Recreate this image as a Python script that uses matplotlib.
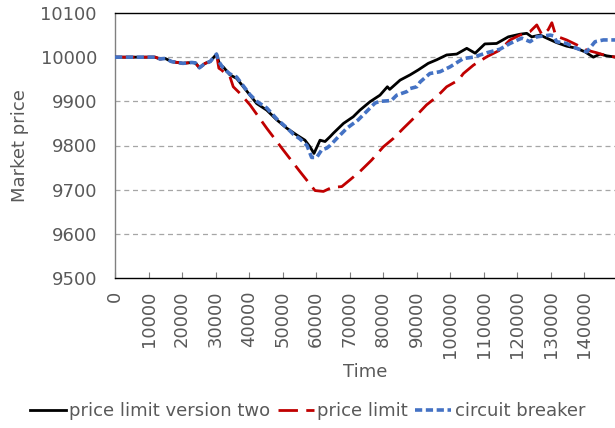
import matplotlib
matplotlib.use("Agg")
import matplotlib.pyplot as plt

# ---- data ----
t_start = [0, 5000, 10000, 12000, 13400, 15000, 16900, 20300, 22900, 24000, 25200, 26900, 28400, 30300]
p_start = [10000, 10000, 10000, 10000, 9996, 9997, 9990, 9986, 9988, 9987, 9976, 9986, 9990, 10007]

t_black = t_start + [31300, 32300, 34300, 36300, 38300, 40300, 42300, 45300, 48300, 51300, 54200, 56700,
                     58200, 59400, 61200, 62700, 64200, 65200, 68200, 71100, 73100, 76100, 79100, 81300,
                     82000, 85100, 88100, 90500, 93500, 96000, 99000, 102000, 105000, 107500, 110400,
                     113900, 117400, 120900, 122900, 124400, 126900, 128900, 131800, 134800, 137800,
                     140300, 142800, 144800, 146800, 149500]
p_black = p_start + [9982, 9978, 9960, 9952, 9933, 9914, 9895, 9880, 9858, 9839, 9824, 9812,
                     9797, 9782, 9812, 9809, 9820, 9828, 9850, 9865, 9880, 9899, 9914, 9933,
                     9927, 9948, 9960, 9971, 9986, 9994, 10005, 10007, 10020, 10009, 10030,
                     10031, 10046, 10052, 10054, 10046, 10050, 10043, 10033, 10025, 10020,
                     10012, 10000, 10007, 10003, 10000]

t_red = t_start + [31000, 31800, 33300, 34300, 35300, 37300, 40300, 45300, 50200, 55200, 59700, 62200,
                   64700, 67700, 70100, 73100, 76600, 80100, 83100, 86100, 89600, 93000, 96000, 99000,
                   102500, 104000, 107000, 111000, 114900, 117900, 120900, 123900, 125900, 127500,
                   129300, 130400, 131600, 134800, 137800, 140800, 143800, 146800, 149500]
p_red = p_start + [9975, 9971, 9960, 9956, 9933, 9918, 9892, 9839, 9790, 9741, 9698, 9696,
                   9705, 9707, 9722, 9741, 9767, 9797, 9816, 9839, 9865, 9892, 9910, 9933,
                   9948, 9963, 9982, 10001, 10016, 10039, 10050, 10058, 10073, 10050,
                   10062, 10078, 10048, 10039, 10028, 10016, 10010, 10003, 10000]

t_blue = t_start + [31000, 32300, 34300, 36300, 38300, 40300, 42300, 44300, 45300, 48300, 51300, 53300,
                    55200, 57300, 58700, 60200, 61700, 63200, 64200, 66200, 69200, 72600, 75100, 77600,
                    79000, 81100, 82500, 84100, 87100, 88100, 90100, 91100, 94000, 97000, 100000,
                    104000, 107000, 111000, 114900, 117900, 121400, 123900, 125900, 129900, 131000,
                    131800, 134800, 137800, 140800, 143300, 145800, 149500]
p_blue = p_start + [9990, 9975, 9962, 9955, 9935, 9915, 9900, 9890, 9885, 9860, 9840, 9825,
                    9815, 9800, 9773, 9773, 9790, 9794, 9800, 9816, 9839, 9858, 9877, 9896,
                    9900, 9901, 9902, 9914, 9922, 9929, 9933, 9944, 9963, 9967, 9978,
                    9997, 10000, 10010, 10018, 10031, 10043, 10035, 10046, 10050, 10048,
                    10035, 10031, 10020, 10012, 10035, 10039, 10039]

x_ticks = list(range(0, 150000, 10000))
y_ticks = [9500, 9600, 9700, 9800, 9900, 10000, 10100]
labels = ["price limit version two", "price limit", "circuit breaker"]

# ---- figure ----
plt.rcParams['font.family'] = ['DejaVu Sans']
grey = '#595959'
fig = plt.figure(figsize=(6.15, 4.28), dpi=100)
ax = fig.add_axes([115/615, 1 - 278/428, 500/615, 265/428])

ax.plot(t_black, p_black, color='black', lw=2.0, label=labels[0], zorder=3)
ax.plot(t_red, p_red, color='#C00000', lw=2.0, linestyle=(0, (7, 3)), label=labels[1], zorder=4)
ax.plot(t_blue, p_blue, color='#4472C4', lw=2.6, linestyle=(0, (2.0, 1.0)), label=labels[2], zorder=5)

ax.set_xlim(0, 149250)
ax.set_ylim(9500, 10100)
ax.set_xticks(x_ticks)
ax.set_xticklabels([str(v) for v in x_ticks], rotation=90, fontsize=13, color=grey)
ax.set_yticks(y_ticks)
ax.set_yticklabels([str(v) for v in y_ticks], fontsize=13, color=grey)
ax.tick_params(axis='y', length=0, pad=13)
ax.tick_params(axis='x', direction='in', length=4.5, width=0.8, color='#7f7f7f', pad=9)

for y in y_ticks[1:-1]:
    ax.axhline(y, color='#a6a6a6', lw=0.9, linestyle=(0, (4, 3)), zorder=1)

ax.spines['right'].set_visible(False)
ax.spines['top'].set_color('black')
ax.spines['top'].set_linewidth(1.0)
ax.spines['left'].set_color('#808080')
ax.spines['left'].set_linewidth(1.0)
ax.spines['bottom'].set_color('black')
ax.spines['bottom'].set_linewidth(1.0)

ax.set_xlabel("Time", fontsize=13, color=grey, labelpad=3)
ax.set_ylabel("Market price", fontsize=13, color=grey, labelpad=8)

fig.legend(loc='center', bbox_to_anchor=(0.5, 1 - 411/428), ncol=3, frameon=False,
           fontsize=13, labelcolor=grey, handlelength=2.0, handletextpad=0.2,
           columnspacing=0.4, borderpad=0)

fig.savefig("out.png", dpi=100)
